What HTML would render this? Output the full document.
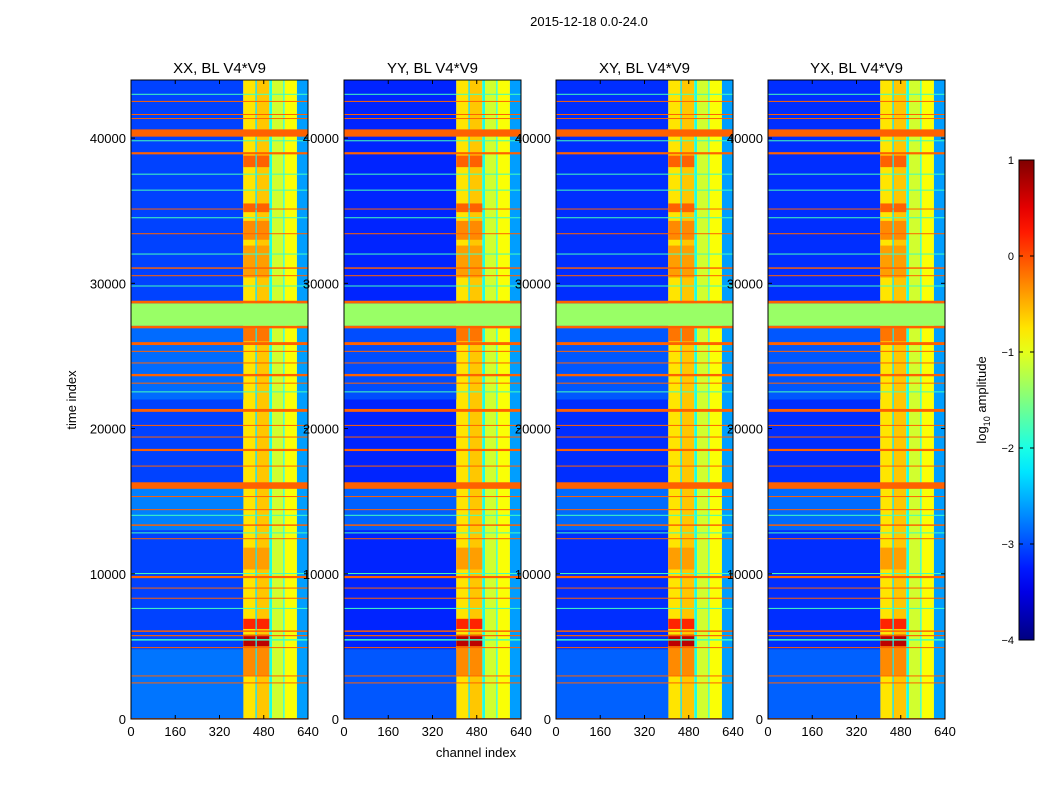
<!DOCTYPE html>
<html><head><meta charset="utf-8">
<style>
html,body{margin:0;padding:0;background:#fff;}
svg{display:block;font-family:"Liberation Sans",sans-serif;}
</style></head>
<body>
<svg id="fig" width="1050" height="800" viewBox="0 0 1050 800" xmlns="http://www.w3.org/2000/svg">
<rect x="0" y="0" width="1050" height="800" fill="#fff"/>
<text x="589" y="26" font-size="13" text-anchor="middle">2015-12-18 0.0-24.0</text>
<text x="0" y="0" font-size="13" text-anchor="middle" transform="translate(76,400) rotate(-90)">time index</text>
<text x="476" y="757" font-size="13" text-anchor="middle">channel index</text>
<g id="panels"></g>
<g id="cbar"></g>
<text x="0" y="0" font-size="13" text-anchor="middle" transform="translate(986,400) rotate(-90)">log<tspan font-size="9" dy="4">10</tspan><tspan dy="-4"> amplitude</tspan></text>
</svg>
<script>
const panelTitles = ["XX, BL V4*V9","YY, BL V4*V9","XY, BL V4*V9","YX, BL V4*V9"];
const panelBgOffset = [0, -0.15, -0.1, -0.1];
const xTicks = [0,160,320,480,640];
const yTicks = [0,10000,20000,30000,40000];
const cbTicks = [1,0,-1,-2,-3,-4];
const cbLabels = ["1","0","\u22121","\u22122","\u22123","\u22124"];
const chEdges = [0,406,450,455,500,510,550,556,600,640];
const chLevel = [-3.05,-0.75,-2.3,-0.6,-2.0,-1.1,-1.8,-0.9,-2.6];
const regionStart = [0,13000,22000];
const regionEnd = [4800,16000,27000];
const regionLevel = [-2.8,-2.75,-2.85];
const blockStart = [38000,34900,33000,30400,26000,10300,6200,5000,3000];
const blockEnd = [38800,35500,34300,32600,27000,11800,6900,5800,5000];
const blockLevel = [-0.1,-0.1,-0.3,-0.4,-0.2,-0.4,0.2,0.7,-0.3];
const flagStart = [42500,41600,41330,40100,38880,35100,33400,31000,30500,28620,26900,25750,25300,24500,23600,23100,21150,20200,19400,18450,17400,15850,15300,14400,13300,12400,9700,9000,8300,6000,5700,4900,2950,2450,0];
const flagEnd =   [42560,41660,41380,40600,39030,35150,33450,31100,30560,28800,27070,25950,25350,24550,23760,23160,21350,20250,19450,18600,17450,16300,15350,14450,13400,12450,9850,9050,8350,6100,5780,4950,3000,2520,60];
const flagLevel = -0.1;
const greenStart = [27070];
const greenEnd = [28620];
const greenLevel = -1.375;
const lightStart = [43000,39800,37500,36400,34500,32000,29800,22500,14000,12800,10000,7600,5400];
const lightEnd =   [43050,39850,37550,36450,34550,32050,29850,22560,14060,12850,10050,7650,5500];
const lightLevel = -1.8;

const NS="http://www.w3.org/2000/svg";
const panelX=[131,344,556,768], PW=177, PT=80, PB=719;
const TMAX=44000, CMAX=640, VMIN=-4, VMAX=1;
function jet(v){
  let t=(v-VMIN)/(VMAX-VMIN); t=Math.max(0,Math.min(1,t));
  const c=x=>Math.round(255*Math.max(0,Math.min(1,x)));
  return `rgb(${c(1.5-Math.abs(4*t-3))},${c(1.5-Math.abs(4*t-2))},${c(1.5-Math.abs(4*t-1))})`;
}
function el(tag,attrs,parent){const e=document.createElementNS(NS,tag);for(const k in attrs)e.setAttribute(k,attrs[k]);parent.appendChild(e);return e;}
const panels=document.getElementById('panels');
panelTitles.forEach((title,p)=>{
  const x0=panelX[p];
  const xs=c=>x0+c/CMAX*PW;
  const ys=t=>PB-t/TMAX*(PB-PT);
  const g=el('g',{},panels);
  
  
  const hm=el('g',{},g);
  
  
  function band(c0,c1,t0,t1,v){
    const r=el('rect',{x:xs(c0),y:ys(t1),width:xs(c1)-xs(c0),height:Math.max(1,ys(t0)-ys(t1)),fill:jet(v)},hm);
    
    
  }
  for(let i=0;i<chLevel.length;i++){
    const v=chLevel[i]+(i===0?panelBgOffset[p]:0);
    band(chEdges[i],chEdges[i+1],0,TMAX,v);
  }
  for(let i=0;i<regionStart.length;i++) band(0,chEdges[1],regionStart[i],regionEnd[i],regionLevel[i]+panelBgOffset[p]);
  for(let i=0;i<blockStart.length;i++){
    band(chEdges[1],chEdges[2],blockStart[i],blockEnd[i],blockLevel[i]);
    band(chEdges[3],chEdges[4],blockStart[i],blockEnd[i],blockLevel[i]);
  }
  for(let i=0;i<lightStart.length;i++) band(0,CMAX,lightStart[i],lightEnd[i],lightLevel);
  for(let i=0;i<greenStart.length;i++) band(0,CMAX,greenStart[i],greenEnd[i],greenLevel);
  for(let i=0;i<flagStart.length;i++) band(0,CMAX,flagStart[i],flagEnd[i],flagLevel);
  el('rect',{x:x0,y:PT,width:PW,height:PB-PT,fill:'none',stroke:'#000','stroke-width':1},g);
  const tt=el('text',{x:x0+PW/2,y:73,'font-size':15,'text-anchor':'middle'},g);
  tt.textContent=title;
  
  
  xTicks.forEach(v=>{
    const x=xs(v);
    el('line',{x1:x,x2:x,y1:PB,y2:PB-4,stroke:'#000'},g);
    el('line',{x1:x,x2:x,y1:PT,y2:PT+4,stroke:'#000'},g);
    const t=el('text',{x:x,y:PB+17,'font-size':13,'text-anchor':'middle'},g);
    t.textContent=v;
    
    
  });
  yTicks.forEach(v=>{
    const y=ys(v);
    el('line',{x1:x0,x2:x0+4,y1:y,y2:y,stroke:'#000'},g);
    el('line',{x1:x0+PW,x2:x0+PW-4,y1:y,y2:y,stroke:'#000'},g);
    const t=el('text',{x:x0-5,y:y+5,'font-size':13,'text-anchor':'end'},g);
    t.textContent=v;
    
    
  });
});
const cb=document.getElementById('cbar');
const CBX=1019,CBW=15,CBT=160,CBB=640;
const cbs=v=>CBB-(v-VMIN)/(VMAX-VMIN)*(CBB-CBT);
const defs=el('defs',{},cb);
const lg=el('linearGradient',{id:'jetg',x1:0,y1:1,x2:0,y2:0},defs);
for(let i=0;i<=20;i++){el('stop',{offset:i/20,'stop-color':jet(VMIN+i/20*(VMAX-VMIN))},lg);}
el('rect',{x:CBX,y:CBT,width:CBW,height:CBB-CBT,fill:'url(#jetg)',stroke:'#000'},cb);
cbTicks.forEach((v,i)=>{
  const y=cbs(v);
  el('line',{x1:CBX,x2:CBX+4,y1:y,y2:y,stroke:'#000'},cb);
  el('line',{x1:CBX+CBW,x2:CBX+CBW-4,y1:y,y2:y,stroke:'#000'},cb);
  const t=el('text',{x:CBX-5,y:y+4,'font-size':11,'text-anchor':'end'},cb);
  t.textContent=cbLabels[i];
  
  
});
</script>
</body></html>
